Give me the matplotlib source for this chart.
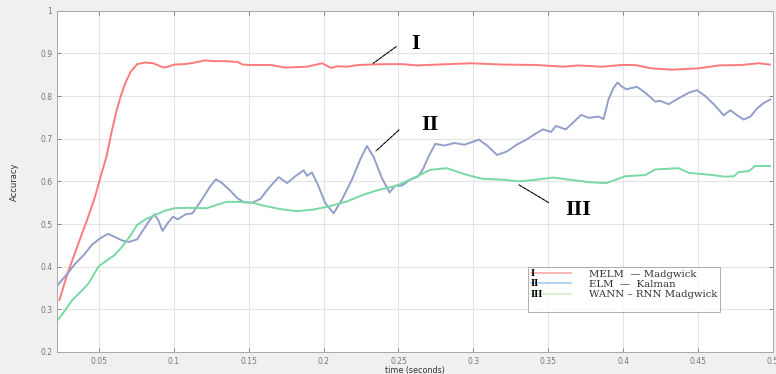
import matplotlib.pyplot as plt
from matplotlib.lines import Line2D

# accuracy over time for the three estimators
t_melm = [0.0236, 0.029, 0.0355, 0.042, 0.0474, 0.0517, 0.055, 0.0582, 0.0615, 0.0647,
          0.068, 0.0712, 0.0755, 0.081, 0.0864, 0.0929, 0.096, 0.1004, 0.107, 0.113,
          0.121, 0.126, 0.135, 0.1426, 0.146, 0.152, 0.165, 0.174, 0.189, 0.199,
          0.205, 0.209, 0.216, 0.223, 0.231, 0.242, 0.253, 0.262, 0.276, 0.298,
          0.32, 0.342, 0.36, 0.37, 0.386, 0.399, 0.408, 0.419, 0.4326, 0.45,
          0.464, 0.479, 0.4905, 0.498]
acc_melm = [0.322, 0.384, 0.447, 0.509, 0.564, 0.619, 0.658, 0.712, 0.763, 0.802,
            0.834, 0.857, 0.875, 0.879, 0.877, 0.867, 0.869, 0.874, 0.875, 0.878,
            0.884, 0.882, 0.882, 0.880, 0.874, 0.873, 0.873, 0.867, 0.869, 0.877,
            0.866, 0.870, 0.869, 0.873, 0.874, 0.875, 0.875, 0.872, 0.874, 0.877,
            0.874, 0.873, 0.869, 0.872, 0.869, 0.873, 0.873, 0.865, 0.862, 0.865,
            0.872, 0.873, 0.877, 0.874]

t_elm = [0.0225, 0.029, 0.0344, 0.0398, 0.0452, 0.0506, 0.0561, 0.0604, 0.0658, 0.0701,
         0.0755, 0.0788, 0.0831, 0.087, 0.0896, 0.0924, 0.0961, 0.0994, 0.1026, 0.108,
         0.1124, 0.1156, 0.1199, 0.1242, 0.1281, 0.1318, 0.1372, 0.1426, 0.147, 0.1524,
         0.1578, 0.1633, 0.17, 0.1756, 0.1811, 0.1867, 0.1889, 0.1922, 0.1967, 0.2011,
         0.2067, 0.2122, 0.2189, 0.2244, 0.2289, 0.2333, 0.2389, 0.244, 0.2478, 0.2522,
         0.2578, 0.2633, 0.2667, 0.27, 0.2746, 0.2806, 0.2873, 0.294, 0.3037, 0.3092,
         0.3158, 0.3223, 0.3289, 0.3354, 0.342, 0.3464, 0.3519, 0.3551, 0.3617, 0.3672,
         0.372, 0.377, 0.3836, 0.3869, 0.3902, 0.3934, 0.3963, 0.3989, 0.4022, 0.4092,
         0.4148, 0.4215, 0.4248, 0.4304, 0.4371, 0.4438, 0.4493, 0.4549, 0.4616, 0.4671,
         0.4716, 0.4761, 0.4805, 0.485, 0.4894, 0.4939, 0.4983]
acc_elm = [0.357, 0.384, 0.408, 0.427, 0.451, 0.466, 0.477, 0.470, 0.461, 0.458,
           0.464, 0.482, 0.505, 0.523, 0.509, 0.484, 0.503, 0.517, 0.511, 0.523,
           0.525, 0.541, 0.564, 0.588, 0.605, 0.597, 0.580, 0.560, 0.551, 0.550,
           0.559, 0.584, 0.610, 0.596, 0.612, 0.626, 0.613, 0.621, 0.588, 0.549,
           0.525, 0.557, 0.604, 0.651, 0.683, 0.658, 0.608, 0.574, 0.590, 0.590,
           0.604, 0.612, 0.631, 0.658, 0.688, 0.684, 0.690, 0.686, 0.698, 0.684,
           0.662, 0.670, 0.686, 0.698, 0.713, 0.722, 0.716, 0.730, 0.722, 0.740,
           0.756, 0.749, 0.752, 0.746, 0.792, 0.818, 0.832, 0.823, 0.816, 0.822,
           0.808, 0.787, 0.789, 0.781, 0.795, 0.808, 0.814, 0.800, 0.777, 0.755,
           0.767, 0.755, 0.745, 0.752, 0.771, 0.784, 0.792]

t_wann = [0.0225, 0.0268, 0.0323, 0.0377, 0.0431, 0.0463, 0.0496, 0.055, 0.0604, 0.0658,
          0.0712, 0.0755, 0.081, 0.0874, 0.0939, 0.1004, 0.1091, 0.122, 0.1286, 0.1351,
          0.1437, 0.1524, 0.16, 0.1711, 0.1822, 0.1933, 0.2044, 0.2156, 0.2267, 0.2378,
          0.2489, 0.26, 0.2711, 0.2822, 0.295, 0.306, 0.3196, 0.3308, 0.342, 0.3531,
          0.3643, 0.3777, 0.3888, 0.4014, 0.415, 0.4215, 0.437, 0.4438, 0.4594, 0.468,
          0.474, 0.477, 0.484, 0.488, 0.498]
acc_wann = [0.275, 0.295, 0.322, 0.341, 0.361, 0.380, 0.400, 0.414, 0.427, 0.448,
            0.474, 0.498, 0.511, 0.521, 0.531, 0.537, 0.538, 0.537, 0.545, 0.552,
            0.552, 0.550, 0.543, 0.535, 0.530, 0.534, 0.542, 0.553, 0.569, 0.581,
            0.590, 0.608, 0.627, 0.631, 0.616, 0.606, 0.604, 0.600, 0.604, 0.609,
            0.604, 0.598, 0.596, 0.612, 0.615, 0.628, 0.631, 0.620, 0.615, 0.611,
            0.612, 0.622, 0.624, 0.636, 0.636]

labels = ["MELM  \u2014 Madgwick", "ELM  \u2014  Kalman", "WANN \u2013 RNN Madgwick"]
numerals = ["I", "II", "III"]
x_ticks = [0.05, 0.1, 0.15, 0.2, 0.25, 0.3, 0.35, 0.4, 0.45, 0.5]
x_ticklabels = ["0.05", "0.1", "0.15", "0.2", "0.25", "0.3", "0.35", "0.4", "0.45", "0.5"]
y_ticks = [0.2, 0.3, 0.4, 0.5, 0.6, 0.7, 0.8, 0.9, 1.0]
y_ticklabels = ["0.2", "0.3", "0.4", "0.5", "0.6", "0.7", "0.8", "0.9", "1"]

c_red = "#ff7a7a"
c_blue = "#939fcb"
c_green = "#78d8a6"

fig = plt.figure(figsize=(7.76, 3.74), dpi=100, facecolor="#f0f0f0")
ax = fig.add_axes([0.0735, 0.059, 0.9225, 0.912])
ax.set_facecolor("white")

ax.plot(t_melm, acc_melm, color=c_red, lw=1.4)
ax.plot(t_elm, acc_elm, color=c_blue, lw=1.4)
ax.plot(t_wann, acc_wann, color=c_green, lw=1.4)

ax.set_xlim(0.022, 0.5)
ax.set_ylim(0.2, 1.0)
ax.set_xticks(x_ticks)
ax.set_xticklabels(x_ticklabels)
ax.set_yticks(y_ticks)
ax.set_yticklabels(y_ticklabels)
ax.grid(True, color="#e4e4e4", lw=0.8)
ax.tick_params(direction="in", length=3, width=0.6, colors="#777777",
               labelsize=5.5, pad=3.5, top=True, right=True)
for s in ax.spines.values():
    s.set_color("#a8a8a8")
    s.set_linewidth(0.7)

ax.set_xlabel("time (seconds)", fontsize=5.8, color="#333333", labelpad=0.5)
ax.set_ylabel("Accuracy", fontsize=6, color="#333333", labelpad=15)

# leader lines and roman numeral tags
tag_font = dict(family="Liberation Serif", fontweight="bold", fontsize=16, color="black")
leaders = [((0.2316, 0.873), (0.250, 0.920)),
           ((0.2336, 0.667), (0.2517, 0.725)),
           ((0.3285, 0.596), (0.3518, 0.547))]
for (xy, xyt) in leaders:
    ax.annotate("", xy=xy, xytext=xyt,
                arrowprops=dict(arrowstyle="-", color="black", lw=0.8, ls=(0, (3, 1))))
ax.text(0.2585, 0.922, "I", ha="left", va="center", **tag_font)
ax.text(0.2655, 0.733, "II", ha="left", va="center", **tag_font)
ax.text(0.3615, 0.533, "III", ha="left", va="center", **tag_font)

# legend: pale handles, serif labels, numerals in front of each row
handles = [Line2D([], [], color=c, lw=1.2) for c in ("#f7a8a8", "#a9cdee", "#d4eccb")]
handles.append(Line2D([], [], color="none"))
leg = ax.legend(handles, labels + [" "], loc="upper left", bbox_to_anchor=(0.658, 0.249),
                prop=dict(family="DejaVu Serif", size=7.3), frameon=True, fancybox=False,
                handlelength=4.0, handletextpad=1.8, borderpad=0.25, labelspacing=0.12,
                borderaxespad=0)
leg.get_frame().set_edgecolor("#9a9a9a")
leg.get_frame().set_linewidth(0.7)
for txt in leg.get_texts():
    txt.set_color("#333333")
# leave room in front of each handle for its numeral
for line in leg.get_lines():
    xd = line.get_xdata()
    if len(xd) == 2:
        line.set_xdata([xd[0] + 0.3 * (xd[1] - xd[0]), xd[1]])
for y, num in zip([0.231, 0.200, 0.169], numerals):
    ax.text(0.662, y, num, transform=ax.transAxes, ha="left", va="center",
            family="Liberation Serif", fontweight="bold", fontsize=7.5, zorder=10)

fig.savefig("out.png", dpi=100, facecolor=fig.get_facecolor())
